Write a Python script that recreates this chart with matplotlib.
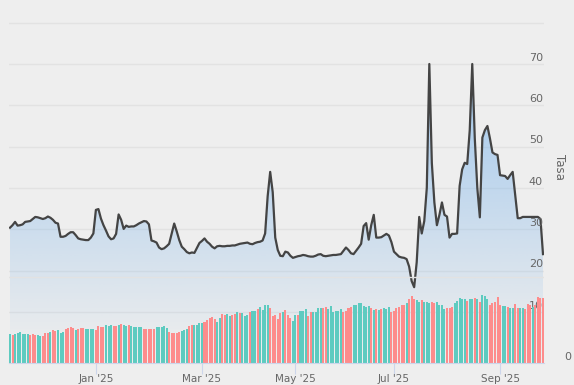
import numpy as np
import matplotlib
matplotlib.use("Agg")
import matplotlib.pyplot as plt
from matplotlib.colors import to_rgb
from matplotlib.patches import PathPatch

# DATA
tasa = [
    30.4, 31.0, 31.8, 30.9, 31.0, 31.2, 31.8, 31.9, 32.0, 32.5,
    33.0, 32.9, 32.7, 32.5, 32.7, 33.1, 32.8, 32.3, 31.6, 31.4,
    28.2, 28.2, 28.4, 28.9, 29.3, 29.3, 28.6, 27.8, 27.6, 27.5,
    27.4, 27.4, 28.0, 29.0, 34.7, 34.9, 32.6, 31.0, 29.7, 28.3,
    27.6, 27.8, 28.9, 33.6, 32.3, 30.1, 30.9, 30.6, 30.7, 30.7,
    31.0, 31.4, 31.7, 32.0, 31.9, 31.2, 27.3, 27.1, 26.8, 25.6,
    25.2, 25.4, 25.9, 26.5, 29.0, 31.4, 29.5, 27.4, 25.8, 25.2,
    24.5, 24.2, 24.4, 24.3, 25.5, 26.7, 27.2, 27.8, 27.0,
    26.5, 25.8, 25.4, 25.9, 26.0, 25.9, 25.9, 26.0, 26.0, 26.1,
    26.1, 26.3, 26.5, 26.6, 26.7, 26.8, 26.5, 26.4, 26.7, 26.9,
    27.0, 27.3, 29.0, 38.0, 43.9, 39.0, 28.0, 25.0, 23.6, 23.5,
    24.6, 24.4, 23.6, 23.1, 23.3, 23.5, 23.6, 23.8, 23.7, 23.5,
    23.4, 23.4, 23.6, 23.9, 24.0, 23.6, 23.5, 23.6, 23.7, 23.8,
    23.8, 23.9, 24.0, 24.8, 25.6, 25.0, 24.2, 24.0, 24.8,
    25.6, 26.5, 30.8, 31.5, 27.5, 31.0, 33.5, 28.0, 28.0, 28.1,
    28.5, 28.9, 28.5, 26.9, 24.6, 24.0, 23.4, 23.2, 23.1, 22.8,
    21.0, 17.5, 16.0, 22.0, 33.0, 29.0, 32.0, 40.0, 70.0, 46.0,
    36.5, 31.0, 33.5, 36.5, 33.5, 33.1, 28.0, 28.9, 28.9, 29.0,
    40.5, 44.5, 46.1, 45.8, 54.0, 70.0, 52.0, 40.0, 32.9, 52.2,
    54.0, 55.0, 52.0, 48.6, 48.2, 48.0, 43.1, 43.0, 42.9, 42.2,
    43.1, 43.9, 38.3, 32.7, 32.7, 33.0, 33.0, 33.0, 33.0, 33.0,
    33.0, 33.0, 32.5, 24.0,
]
volumen = [
    29, 28, 29, 30, 31, 29, 29, 29, 28, 29,
    28, 28, 27, 27, 30, 30, 31, 33, 32, 33,
    30, 31, 34, 35, 36, 35, 33, 34, 35, 35,
    34, 34, 34, 34, 33, 37, 36, 36, 38, 37,
    38, 37, 37, 38, 39, 38, 37, 38, 37, 36,
    36, 36, 36, 34, 34, 34, 34, 34, 36, 36,
    36, 37, 35, 31, 30, 30, 30, 31, 32, 33,
    34, 37, 38, 38, 38, 40, 40, 41, 43, 45,
    46, 44, 41, 45, 49, 48, 49, 47, 48, 49,
    51, 50, 50, 47, 48, 51, 52, 52, 54, 56,
    53, 58, 58, 55, 47, 48, 44,
    50, 51, 53, 48, 45, 42, 48, 48, 52, 52,
    54, 47, 51, 51, 51, 55, 55, 55, 56, 54,
    57, 51, 52, 52, 54, 51, 52, 55, 56, 58,
    58, 60, 60, 57, 56, 57, 55, 53, 54, 53,
    54, 55, 54, 56, 51, 52, 55, 56, 58, 58,
    60, 64, 67, 64, 63, 61, 63, 61, 61, 60,
    61, 60, 61, 58, 58, 54, 55, 55, 56, 60,
    62, 65, 64, 64, 62, 64, 64, 65, 64, 61,
    68, 67, 64, 58, 60, 61, 66, 58, 57, 57,
    56, 55, 55, 59, 55, 55, 55, 54, 59, 58,
    56, 58, 66, 65, 65,
]
# t = sube (verde), p = baja (rojo)
direccion = ("tpttttttpp" "pttppptppt" "ttpppptppp" "ttttpppptt" "tpptpttptt"
             "tttppppptt" "tttppppptt" "tppttttppp" "ppttppttpp" "tptttpttpt" "tttpppp"
             "ptpppttptt" "tppttttppt" "tttttppppt" "ttttttptpt" "ptttpppppp"
             "tpppttpttt" "ppttttpppt" "ttttpttptp" "tttppppptt" "pttppttppp" "tpppp")
meses = ["Jan '25", "Mar '25", "May '25", "Jul '25", "Sep '25"]
mes_idx = [34, 76, 113, 152, 194]
tasa_ticks = [10, 20, 30, 40, 50, 60, 70]

BG = '#eeeeee'; GRID = '#e2e2e2'; TXT = '#666666'; AXC = '#ccd6eb'
TEAL = '#5ecbc0'; PINK = '#fd8c8c'

fig = plt.figure(figsize=(5.74, 3.85), dpi=100, facecolor=BG)
ax = fig.add_axes([9/574, 22/385, 535/574, 341/385]); ax.set_facecolor(BG)
xs = np.arange(len(tasa))

for v in tasa_ticks + [80]:
    ax.axhline(v, color=GRID, lw=1, zorder=0)

# area with vertical gradient
poly = ax.fill_between(xs, tasa, 0, color='none', lw=0)
grad = np.zeros((256, 1, 4)); grad[..., :3] = to_rgb('#7cb5ec')
grad[:, 0, 3] = np.linspace(0.68, 0.0, 256)
im = ax.imshow(grad, extent=[xs[0], xs[-1], 0, max(tasa)], aspect='auto', origin='upper', zorder=1)
clip = PathPatch(poly.get_paths()[0], transform=ax.transData, facecolor='none', edgecolor='none')
ax.add_patch(clip); im.set_clip_path(clip)
ax.plot(xs, tasa, color='#444444', lw=1.6, zorder=3, solid_joinstyle='round')

ax.set_xlim(-0.4, len(tasa) - 0.6); ax.set_ylim(-2.34, 80.16)
for s in ax.spines.values(): s.set_visible(False)
ax.set_yticks([])
ax.set_xticks(mes_idx, meses)
ax.tick_params(axis='x', length=8, color=AXC, labelcolor=TXT, labelsize=7.5, pad=0)
for v in tasa_ticks:
    ax.text(0.998, v + 1.5, str(v), transform=ax.get_yaxis_transform(), ha='right', va='center',
            color=TXT, fontsize=8, zorder=5)

ax2 = ax.twinx(); ax2.patch.set_visible(False)
cols = [TEAL if d == 't' else PINK for d in direccion]
ax2.axhline(86, color=GRID, lw=1, zorder=0)
ax2.bar(xs, volumen, width=0.8, color=cols, lw=0, zorder=2)
ax2.set_ylim(0, 341); ax2.set_yticks([])
for k, s in ax2.spines.items(): s.set_visible(k == 'bottom')
ax2.spines['bottom'].set_color(AXC)

fig.text(559/574, 1 - 167/385, 'Tasa', rotation=270, ha='center', va='center', color=TXT, fontsize=8.5)
fig.text(568/574, 1 - 357/385, '0', ha='center', va='center', color=TXT, fontsize=8)

fig.savefig('out.png', dpi=100, facecolor=BG)
